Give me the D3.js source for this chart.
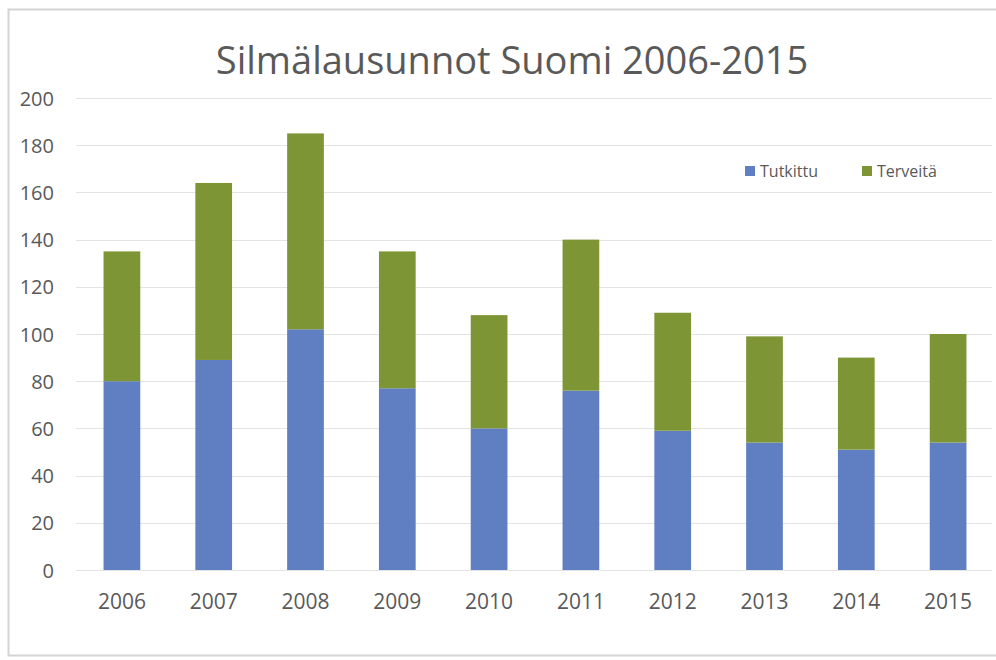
<!DOCTYPE html>
<html>
<head>
<meta charset="utf-8">
<script src="https://cdn.jsdelivr.net/npm/d3@7"></script>
<style>
  body { margin: 0; background: #fff; }
  text { font-family: "Open Sans", sans-serif; fill: #595959; }
</style>
</head>
<body>
<div id="chart"></div>
<script>
var years = ["2006", "2007", "2008", "2009", "2010", "2011", "2012", "2013", "2014", "2015"];
var tutkittu = [80, 89, 102, 77, 60, 76, 59, 54, 51, 54];
var terveita = [55, 75, 83, 58, 48, 64, 50, 45, 39, 46];
var seriesNames = ["Tutkittu", "Terveitä"];
var yTicks = [0, 20, 40, 60, 80, 100, 120, 140, 160, 180, 200];

var width = 996, height = 660;
var color = d3.scaleOrdinal().domain(seriesNames).range(["#5f7fc2", "#7e9535"]);

var svg = d3.select("#chart")
    .append("svg")
    .attr("width", width)
    .attr("height", height);

// chart frame
svg.append("rect")
    .attr("x", 8.5).attr("y", 9.5)
    .attr("width", 1000).attr("height", 646)
    .attr("fill", "#fff")
    .attr("stroke", "#d4d4d4")
    .attr("stroke-width", 2);

var x = d3.scaleBand()
    .domain(years)
    .range([76, 994])
    .paddingInner(0.6)
    .paddingOuter(0.3);

var y = d3.scaleLinear()
    .domain([0, 200])
    .range([570, 98]);

// gridlines
svg.append("g")
    .selectAll("line")
    .data(yTicks)
    .enter()
    .append("line")
    .attr("x1", 76).attr("x2", 992)
    .attr("y1", function (d) { return Math.round(y(d)) + 0.5; })
    .attr("y2", function (d) { return Math.round(y(d)) + 0.5; })
    .attr("stroke", "#e3e3e3")
    .attr("stroke-width", 1);

var data = years.map(function (yr, i) {
    return { year: yr, "Tutkittu": tutkittu[i], "Terveitä": terveita[i] };
});
var stacked = d3.stack().keys(seriesNames)(data);

svg.append("g")
    .selectAll("g")
    .data(stacked)
    .enter()
    .append("g")
    .attr("fill", function (d) { return color(d.key); })
    .selectAll("rect")
    .data(function (d) { return d; })
    .enter()
    .append("rect")
    .attr("x", function (d) { return x(d.data.year); })
    .attr("width", x.bandwidth())
    .attr("y", function (d) { return y(d[1]); })
    .attr("height", function (d) { return y(d[0]) - y(d[1]); });

// y axis
var yAxis = svg.append("g")
    .attr("transform", "translate(54,0)")
    .call(d3.axisLeft(y).tickValues(yTicks).tickSize(0).tickPadding(0));
yAxis.select(".domain").remove();
yAxis.selectAll("text")
    .style("font-size", "20px")
    .attr("dy", "0.35em");

// x axis
var xAxis = svg.append("g")
    .attr("transform", "translate(0,570)")
    .call(d3.axisBottom(x).tickSize(0).tickPadding(24));
xAxis.select(".domain").remove();
xAxis.selectAll("text")
    .style("font-size", "21px");

// title
svg.append("text")
    .attr("x", 512)
    .attr("y", 74)
    .attr("text-anchor", "middle")
    .style("font-size", "38px")
    .text("Silmälausunnot Suomi 2006-2015");

// legend
var legend = svg.append("g")
    .selectAll("g")
    .data(seriesNames)
    .enter()
    .append("g")
    .attr("transform", function (d, i) { return "translate(" + (745 + i * 117) + ",166)"; });

legend.append("rect")
    .attr("width", 10).attr("height", 10)
    .attr("fill", function (d) { return color(d); });

legend.append("text")
    .attr("x", 15)
    .attr("y", 5)
    .attr("dy", "0.35em")
    .style("font-size", "16px")
    .text(function (d) { return d; });
</script>
</body>
</html>
